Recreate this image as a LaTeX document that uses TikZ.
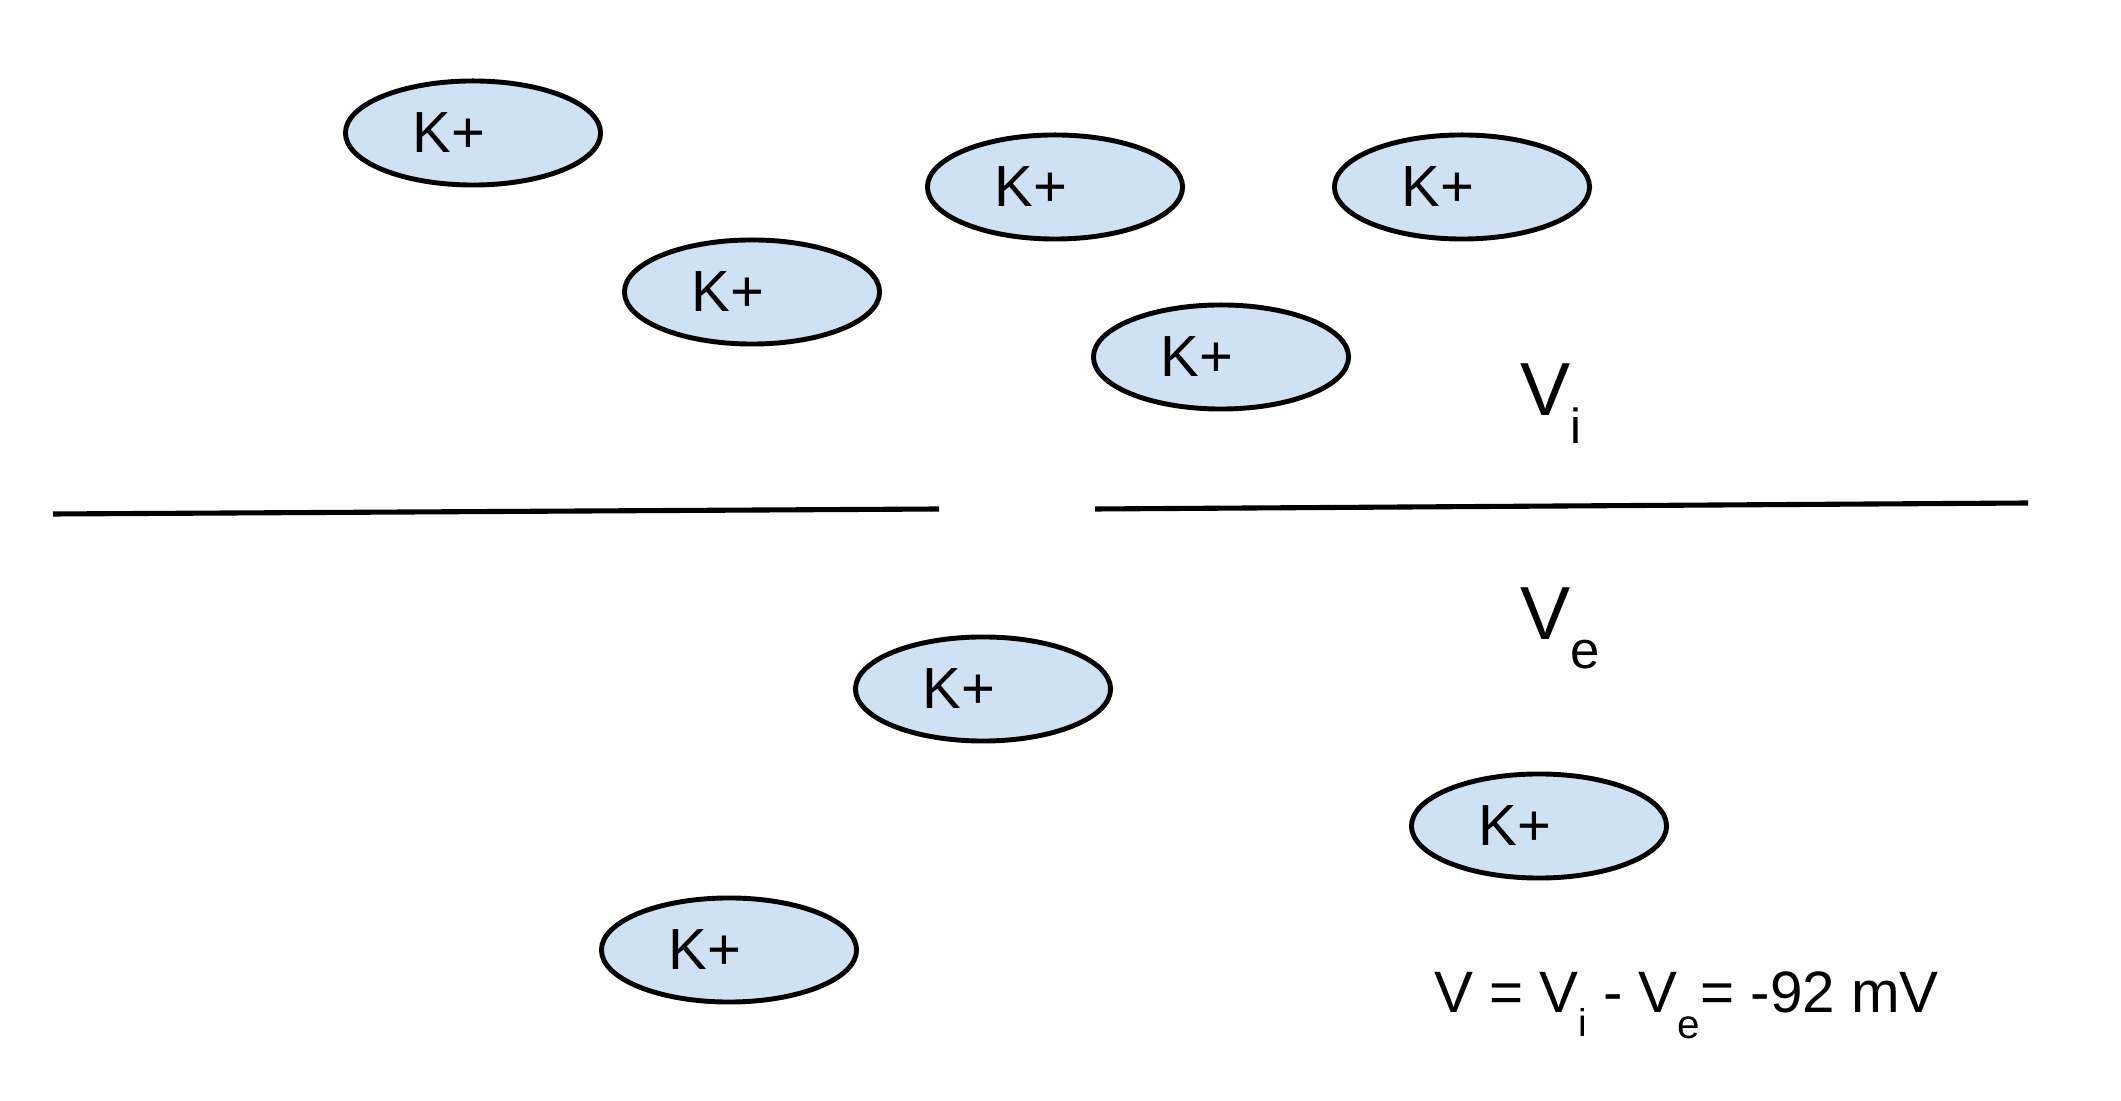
\documentclass[tikz,border=0pt]{standalone}
\usepackage{fontspec}
\setmainfont{Liberation Sans}
\usetikzlibrary{shapes.geometric}
\definecolor{ionfill}{RGB}{207,226,243}
\newcommand\mysub[3]{\raisebox{-#3}{\fontsize{#1}{#1}\selectfont #2}}
\begin{document}
\begin{tikzpicture}[x=0.01cm,y=-0.01cm,
  ion/.style={ellipse,draw=black,line width=1.4pt,fill=ionfill,
    minimum width=2.55cm,minimum height=1.04cm,inner sep=0pt,
    font=\fontsize{16.5pt}{16.5pt}\selectfont},
  membrane/.style={line width=1.45pt},
  lbl/.style={anchor=base west,inner sep=0pt,outer sep=0pt}]
\useasboundingbox (0,0) rectangle (2121,1101);
\node[ion] (k1) at (473,133) {K+\kern0.48cm};
\node[ion] (k2) at (1055,187) {K+\kern0.48cm};
\node[ion] (k3) at (1462,187) {K+\kern0.48cm};
\node[ion] (k4) at (752,292) {K+\kern0.48cm};
\node[ion] (k5) at (1221,357) {K+\kern0.48cm};
\node[ion] (k6) at (983,689) {K+\kern0.48cm};
\node[ion] (k7) at (1539,826) {K+\kern0.48cm};
\node[ion] (k8) at (729,950) {K+\kern0.48cm};
\coordinate (a1) at (53,514);
\coordinate (a2) at (939,509);
\coordinate (b1) at (1095,509);
\coordinate (b2) at (2028,503);
\draw[membrane] (a1) -- (a2);
\draw[membrane] (b1) -- (b2);
\node[lbl] (vi) at (1520,416) {\fontsize{21.4pt}{21.4pt}\selectfont V\mysub{14pt}{i}{0.27cm}};
\node[lbl] (ve) at (1520,640) {\fontsize{21.4pt}{21.4pt}\selectfont V\mysub{15pt}{e}{0.28cm}};
\node[lbl] (eq) at (1434,1013) {\fontsize{16.6pt}{16.6pt}\selectfont V = V\mysub{11pt}{i}{0.23cm} - V\mysub{11.5pt}{e}{0.25cm}= -92 mV};
\end{tikzpicture}
\end{document}
